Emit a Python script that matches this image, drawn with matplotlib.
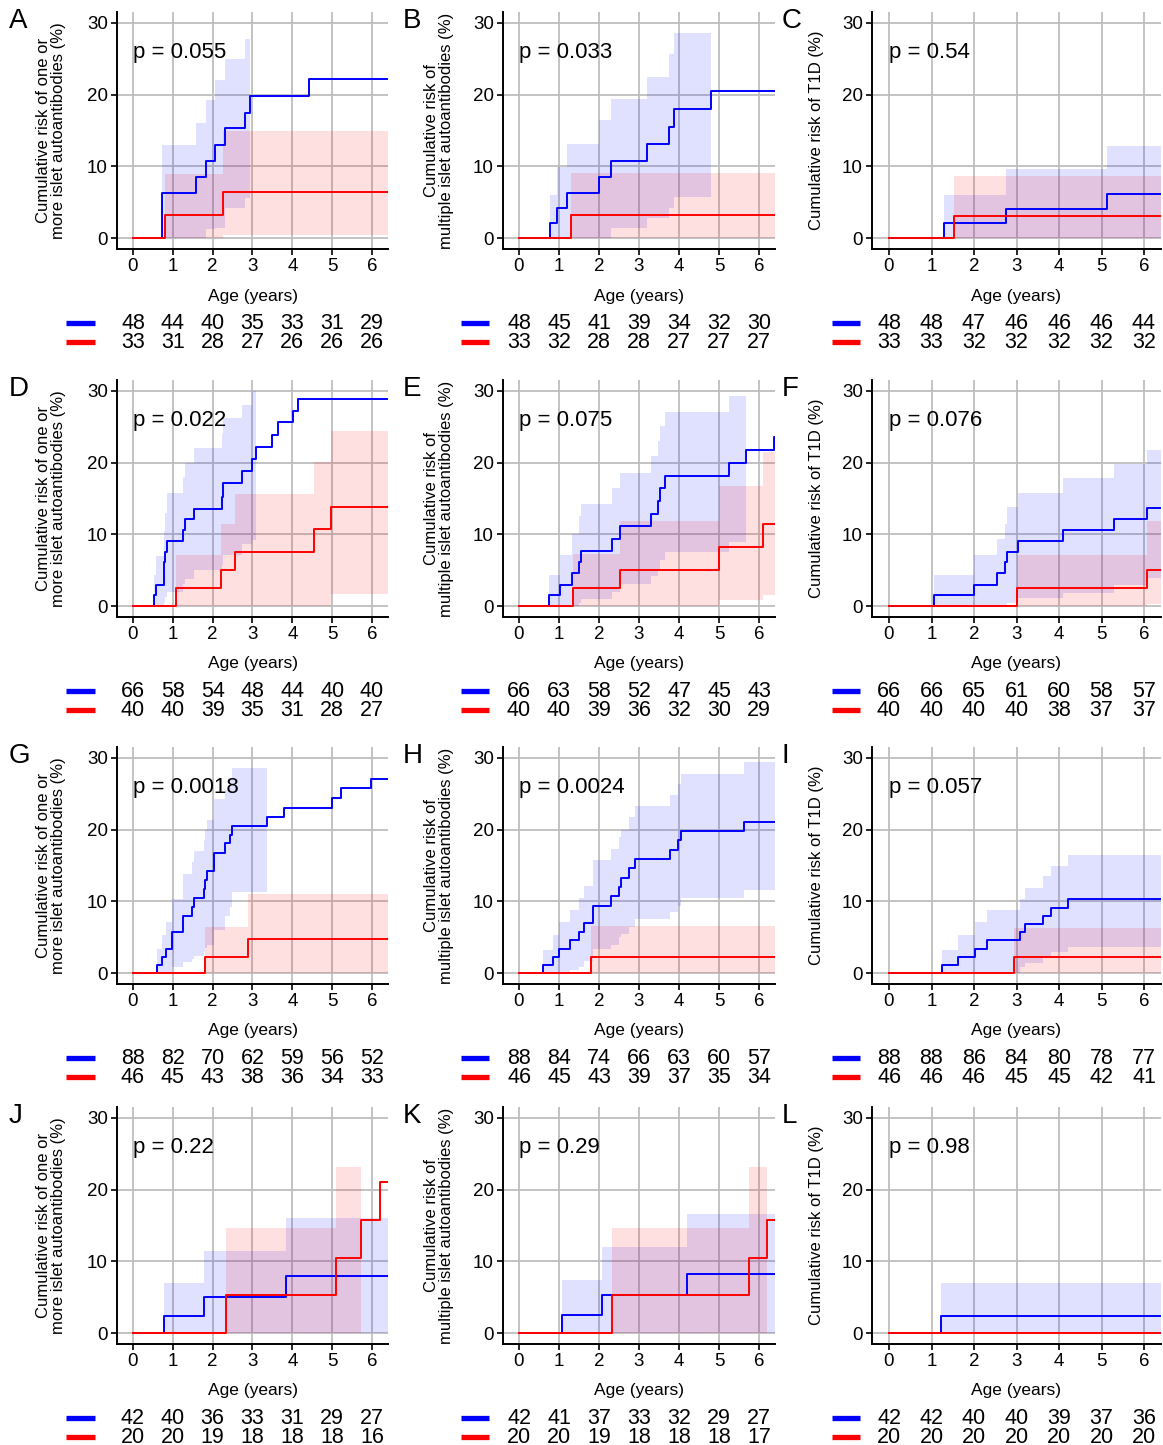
import numpy as np
import matplotlib
matplotlib.use("Agg")
import matplotlib.pyplot as plt
from matplotlib.lines import Line2D
from matplotlib.transforms import blended_transform_factory

plt.rcParams['font.family'] = ['Liberation Sans', 'DejaVu Sans']

nan = np.nan
X_MAX = 6.4
risk_ages = [0, 1, 2, 3, 4, 5, 6]

# each group: event ages (t), cumulative risk after the step (y),
# lower / upper confidence bound for that step (nan = band stops)

# A
a_blue_t = [0.74, 1.59, 1.83, 2.07, 2.31, 2.81, 2.94, 4.42]
a_blue_y = [6.3, 8.5, 10.7, 13.0, 15.3, 17.5, 19.8, 22.2]
a_blue_lo = [0, 0, 1.3, 1.4, 4.2, 5.6, nan, nan]
a_blue_hi = [13.0, 16.1, 19.2, 22.1, 24.9, 27.8, nan, nan]
a_red_t = [0.81, 2.27]
a_red_y = [3.2, 6.5]
a_red_lo = [0, 0.4]
a_red_hi = [9.0, 14.9]
a_risk_blue = [48, 44, 40, 35, 33, 31, 29]
a_risk_red = [33, 31, 28, 27, 26, 26, 26]

# B
b_blue_t = [0.77, 0.96, 1.19, 2.00, 2.29, 3.20, 3.75, 3.87, 4.79]
b_blue_y = [2.1, 4.2, 6.3, 8.5, 10.7, 13.1, 15.5, 18.0, 20.5]
b_blue_lo = [0, 0, 0, 0, 1.4, 2.8, 4.2, 5.8, nan]
b_blue_hi = [6.0, 9.9, 13.1, 16.4, 19.4, 22.5, 25.6, 28.6, nan]
b_red_t = [1.30]
b_red_y = [3.3]
b_red_lo = [0]
b_red_hi = [9.1]
b_risk_blue = [48, 45, 41, 39, 34, 32, 30]
b_risk_red = [33, 32, 28, 28, 27, 27, 27]

# C
c_blue_t = [1.30, 2.75, 5.14]
c_blue_y = [2.1, 4.1, 6.2]
c_blue_lo = [0, 0, 0]
c_blue_hi = [6.0, 9.7, 12.8]
c_red_t = [1.54]
c_red_y = [3.1]
c_red_lo = [0]
c_red_hi = [8.7]
c_risk_blue = [48, 48, 47, 46, 46, 46, 44]
c_risk_red = [33, 33, 32, 32, 32, 32, 32]

# D
d_blue_t = [0.52, 0.57, 0.77, 0.81, 0.85, 1.25, 1.31, 1.54, 2.23, 2.27, 2.73, 2.98,
            3.09, 3.48, 3.65, 4.02, 4.15]
d_blue_y = [1.5, 3.0, 6.1, 7.6, 9.1, 10.6, 12.1, 13.6, 15.2, 17.1, 18.8, 20.5,
            22.2, 23.9, 25.6, 27.2, 28.8]
d_blue_lo = [0, 0, 0.6, 1.3, 2.0, 3.1, 3.8, 5.0, 5.7, 7.1, 8.7, 9.2,
             nan, nan, nan, nan, nan]
d_blue_hi = [4.4, 7.0, 10.5, 13.0, 15.8, 18.0, 20.0, 22.0, 24.0, 26.2, 28.0, 30.0,
             nan, nan, nan, nan, nan]
d_red_t = [1.08, 2.21, 2.56, 4.54, 4.98]
d_red_y = [2.5, 5.0, 7.6, 10.8, 13.8]
d_red_lo = [0, 0, 0, 0, 1.7]
d_red_hi = [7.2, 11.5, 15.6, 20.1, 24.4]
d_risk_blue = [66, 58, 54, 48, 44, 40, 40]
d_risk_red = [40, 40, 39, 35, 31, 28, 27]

# E
e_blue_t = [0.74, 1.02, 1.33, 1.50, 1.55, 2.32, 2.53, 3.31, 3.48, 3.52, 3.66, 5.26, 5.68, 6.38]
e_blue_y = [1.5, 3.0, 4.6, 6.1, 7.7, 9.4, 11.2, 12.9, 14.6, 16.4, 18.1, 19.9, 21.7, 23.6]
e_blue_lo = [0, 0, 0, 0.5, 1.0, 2.0, 3.1, 4.2, 5.0, 6.5, 7.6, 9.0, nan, nan]
e_blue_hi = [4.4, 7.2, 10.0, 12.5, 14.2, 16.5, 18.6, 20.9, 23.0, 25.1, 27.0, 29.3, nan, nan]
e_red_t = [1.34, 2.53, 5.00, 6.10]
e_red_y = [2.5, 5.1, 8.2, 11.5]
e_red_lo = [0, 0, 0.8, 1.6]
e_red_hi = [7.3, 11.8, 16.7, 21.5]
e_risk_blue = [66, 63, 58, 52, 47, 45, 43]
e_risk_red = [40, 40, 39, 36, 32, 30, 29]

# F
f_blue_t = [1.07, 2.01, 2.53, 2.74, 2.77, 3.04, 4.09, 5.29, 6.06]
f_blue_y = [1.5, 3.0, 4.6, 6.1, 7.6, 9.1, 10.6, 12.2, 13.7]
f_blue_lo = [0, 0, 0, 0, 0.5, 1.2, 1.9, 2.9, 3.9]
f_blue_hi = [4.4, 7.1, 9.4, 11.5, 13.8, 15.8, 17.9, 19.8, 21.7]
f_red_t = [3.00, 6.06]
f_red_y = [2.5, 5.1]
f_red_lo = [0, 0.3]
f_red_hi = [7.2, 11.8]
f_risk_blue = [66, 66, 65, 61, 60, 58, 57]
f_risk_red = [40, 40, 40, 40, 38, 37, 37]

# G
g_blue_t = [0.60, 0.74, 0.83, 0.99, 1.25, 1.48, 1.52, 1.79, 1.81, 1.87, 2.04, 2.32, 2.44,
            2.49, 3.36, 3.79, 5.00, 5.21, 5.98]
g_blue_y = [1.1, 2.3, 3.4, 5.7, 8.0, 9.2, 10.5, 11.7, 13.0, 14.3, 16.8, 18.1, 19.3,
            20.5, 21.8, 23.0, 24.4, 25.8, 27.1]
g_blue_lo = [0, 0, 0, 0.8, 1.6, 2.0, 2.4, 3.0, 3.5, 3.9, 6.0, 8.0, 9.2,
             11.3, nan, nan, nan, nan, nan]
g_blue_hi = [3.4, 5.3, 7.2, 10.4, 13.8, 15.5, 17.0, 18.6, 20.0, 21.4, 24.3, 25.5, 27.0,
             28.6, nan, nan, nan, nan, nan]
g_red_t = [1.80, 2.88]
g_red_y = [2.2, 4.8]
g_red_lo = [0, 0]
g_red_hi = [6.5, 11.1]
g_risk_blue = [88, 82, 70, 62, 59, 56, 52]
g_risk_red = [46, 45, 43, 38, 36, 34, 33]

# H
h_blue_t = [0.60, 0.85, 1.00, 1.27, 1.50, 1.63, 1.86, 2.30, 2.51, 2.54, 2.76, 2.89,
            3.78, 3.97, 4.06, 5.62]
h_blue_y = [1.1, 2.3, 3.4, 4.6, 5.8, 7.0, 9.4, 10.7, 12.0, 13.3, 14.6, 15.9,
            17.2, 18.5, 19.8, 21.1]
h_blue_lo = [0, 0, 0, 0.4, 0.9, 1.7, 3.4, 4.0, 5.0, 5.5, 6.5, 7.6, 8.5, 9.3, 10.5, 11.6]
h_blue_hi = [3.3, 5.3, 7.2, 8.8, 10.5, 12.1, 15.7, 17.3, 19.0, 20.0, 21.8, 23.3,
             24.8, 26.3, 27.8, 29.4]
h_red_t = [1.80]
h_red_y = [2.2]
h_red_lo = [0]
h_red_hi = [6.6]
h_risk_blue = [88, 84, 74, 66, 63, 60, 57]
h_risk_red = [46, 45, 43, 39, 37, 35, 34]

# I
i_blue_t = [1.25, 1.62, 2.02, 2.30, 3.08, 3.20, 3.63, 3.82, 4.20]
i_blue_y = [1.1, 2.3, 3.4, 4.6, 5.7, 6.8, 8.0, 9.1, 10.3]
i_blue_lo = [0, 0, 0, 0, 0.8, 1.4, 2.2, 3.0, 3.7]
i_blue_hi = [3.3, 5.3, 7.1, 8.8, 10.3, 11.9, 13.5, 14.9, 16.4]
i_red_t = [2.93]
i_red_y = [2.2]
i_red_lo = [0]
i_red_hi = [6.3]
i_risk_blue = [88, 88, 86, 84, 80, 78, 77]
i_risk_red = [46, 46, 46, 45, 45, 42, 41]

# J
j_blue_t = [0.79, 1.79, 3.83]
j_blue_y = [2.4, 5.0, 7.9]
j_blue_lo = [0, 0, 0]
j_blue_hi = [7.0, 11.4, 16.1]
j_red_t = [2.33, 5.09, 5.73, 6.21]
j_red_y = [5.3, 10.5, 15.8, 21.0]
j_red_lo = [0, 0, nan, nan]
j_red_hi = [14.6, 23.2, nan, nan]
j_risk_blue = [42, 40, 36, 33, 31, 29, 27]
j_risk_red = [20, 20, 19, 18, 18, 18, 16]

# K
k_blue_t = [1.08, 2.07, 4.20]
k_blue_y = [2.5, 5.3, 8.2]
k_blue_lo = [0, 0, 0]
k_blue_hi = [7.4, 12.0, 16.6]
k_red_t = [2.32, 5.75, 6.21]
k_red_y = [5.3, 10.5, 15.7]
k_red_lo = [0, 0, nan]
k_red_hi = [14.6, 23.2, nan]
k_risk_blue = [42, 41, 37, 33, 32, 29, 27]
k_risk_red = [20, 20, 19, 18, 18, 18, 17]

# L
l_blue_t = [1.22]
l_blue_y = [2.4]
l_blue_lo = [0]
l_blue_hi = [7.0]
l_red_t = []
l_red_y = []
l_red_lo = []
l_red_hi = []
l_risk_blue = [42, 42, 40, 40, 39, 37, 36]
l_risk_red = [20, 20, 20, 20, 20, 20, 20]

letters = ['A', 'B', 'C', 'D', 'E', 'F', 'G', 'H', 'I', 'J', 'K', 'L']
p_values = ['0.055', '0.033', '0.54', '0.022', '0.075', '0.076',
            '0.0018', '0.0024', '0.057', '0.22', '0.29', '0.98']
ylabels = ['Cumulative risk of one or\nmore islet autoantibodies (%)',
           'Cumulative risk of\nmultiple islet autoantibodies (%)',
           'Cumulative risk of T1D (%)']

panels = [
    ((a_blue_t, a_blue_y, a_blue_lo, a_blue_hi), (a_red_t, a_red_y, a_red_lo, a_red_hi), a_risk_blue, a_risk_red),
    ((b_blue_t, b_blue_y, b_blue_lo, b_blue_hi), (b_red_t, b_red_y, b_red_lo, b_red_hi), b_risk_blue, b_risk_red),
    ((c_blue_t, c_blue_y, c_blue_lo, c_blue_hi), (c_red_t, c_red_y, c_red_lo, c_red_hi), c_risk_blue, c_risk_red),
    ((d_blue_t, d_blue_y, d_blue_lo, d_blue_hi), (d_red_t, d_red_y, d_red_lo, d_red_hi), d_risk_blue, d_risk_red),
    ((e_blue_t, e_blue_y, e_blue_lo, e_blue_hi), (e_red_t, e_red_y, e_red_lo, e_red_hi), e_risk_blue, e_risk_red),
    ((f_blue_t, f_blue_y, f_blue_lo, f_blue_hi), (f_red_t, f_red_y, f_red_lo, f_red_hi), f_risk_blue, f_risk_red),
    ((g_blue_t, g_blue_y, g_blue_lo, g_blue_hi), (g_red_t, g_red_y, g_red_lo, g_red_hi), g_risk_blue, g_risk_red),
    ((h_blue_t, h_blue_y, h_blue_lo, h_blue_hi), (h_red_t, h_red_y, h_red_lo, h_red_hi), h_risk_blue, h_risk_red),
    ((i_blue_t, i_blue_y, i_blue_lo, i_blue_hi), (i_red_t, i_red_y, i_red_lo, i_red_hi), i_risk_blue, i_risk_red),
    ((j_blue_t, j_blue_y, j_blue_lo, j_blue_hi), (j_red_t, j_red_y, j_red_lo, j_red_hi), j_risk_blue, j_risk_red),
    ((k_blue_t, k_blue_y, k_blue_lo, k_blue_hi), (k_red_t, k_red_y, k_red_lo, k_red_hi), k_risk_blue, k_risk_red),
    ((l_blue_t, l_blue_y, l_blue_lo, l_blue_hi), (l_red_t, l_red_y, l_red_lo, l_red_hi), l_risk_blue, l_risk_red),
]

BLUE = '#0000FF'
RED = '#FF0000'

# layout in pixels
W, H = 1163, 1445
col_left = [117, 503, 872]
col_right = [388, 775, 1161]
row_top = [12, 380, 747, 1107]
AX_H = 237
ylabel_x = [51, 439, 817]
letter_x = [9, 403, 782]
bar_x = [(66, 95), (461, 489), (832, 860)]


def fx(px):
    return px / W


def fy(py):
    return 1 - py / H


def draw_group(ax, grp, color):
    t, y, lo, hi = grp
    # confidence band over the steps that have bounds
    k = int(np.sum(~np.isnan(np.array(hi, dtype=float)))) if hi else 0
    if k:
        xb = list(t[:k]) + [t[k] if k < len(t) else X_MAX]
        ax.fill_between(xb, list(lo[:k]) + [lo[k - 1]], list(hi[:k]) + [hi[k - 1]],
                        step='post', color=color, alpha=0.12, lw=0)
    xs = [0] + list(t) + [X_MAX]
    ys = [0] + list(y) + [y[-1] if y else 0]
    ax.step(xs, ys, where='post', color=color, lw=1.4)


fig = plt.figure(figsize=(W / 100, H / 100), dpi=100)

for idx, (blue, red, rb, rr) in enumerate(panels):
    r, c = divmod(idx, 3)
    left, right, top = col_left[c], col_right[c], row_top[r]
    ax = fig.add_axes([fx(left), fy(top + AX_H), (right - left) / W, AX_H / H])
    ax.set_xlim(-0.4, X_MAX)
    ax.set_ylim(-1.5, 31.5)
    ax.set_xticks(range(7))
    ax.set_yticks([0, 10, 20, 30])
    ax.grid(True, color='#BEBEBE', lw=1.3)
    ax.set_axisbelow(True)
    for s in ['top', 'right']:
        ax.spines[s].set_visible(False)
    for s in ['left', 'bottom']:
        ax.spines[s].set_linewidth(1.4)
    ax.tick_params(length=4, width=1.2, pad=2.5, labelsize=13.5, colors='black')

    draw_group(ax, blue, BLUE)
    draw_group(ax, red, RED)

    ax.text(0, 25.8, 'p = ' + p_values[idx], fontsize=16, ha='left', va='center')

    # labels around the panel
    mid_y = top + AX_H / 2
    fig.text(fx(ylabel_x[c]), fy(mid_y), ylabels[c], rotation=90, ha='center', va='center',
             fontsize=12, linespacing=1.0)
    fig.text(fx(letter_x[c]), fy(top - 4), letters[idx], fontsize=20, ha='left', va='top')
    fig.text(fx((left + right) / 2), fy(top + AX_H + 47), 'Age (years)', ha='center',
             va='center', fontsize=12.5)

    # numbers at risk
    zero_y = top + 31.5 * AX_H / 33
    trans = blended_transform_factory(ax.transData, fig.transFigure)
    for counts, color, off in [(rb, BLUE, 85), (rr, RED, 104)]:
        yy = fy(zero_y + off)
        fig.add_artist(Line2D([fx(bar_x[c][0]), fx(bar_x[c][1])], [yy, yy],
                              transform=fig.transFigure, color=color, lw=3.8,
                              solid_capstyle='butt'))
        for age, n in zip(risk_ages, counts):
            ax.text(age, yy, str(n), transform=trans, ha='center', va='center',
                    fontsize=15.5, clip_on=False)

fig.savefig('out.png', dpi=100)
